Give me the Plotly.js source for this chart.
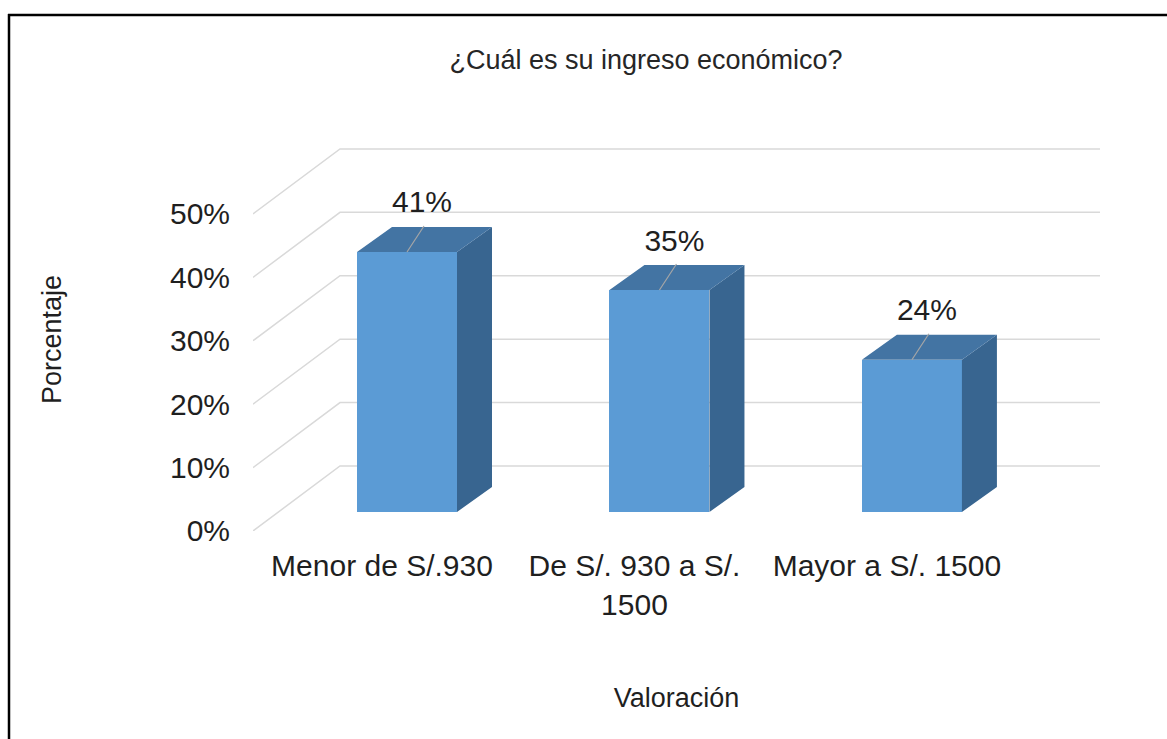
<!DOCTYPE html>
<html>
<head>
<meta charset="utf-8">
<script src="https://cdn.plot.ly/plotly-3.0.1.min.js"></script>
<style>html,body{margin:0;padding:0;background:#fff;}#chart{width:1167px;height:739px;}</style>
</head>
<body>
<div id="chart"></div>
<script>
// ---- data ----
const categories = ['Menor de S/.930', 'De S/. 930 a S/.<br>1500', 'Mayor a S/. 1500'];
const values = [41, 35, 24];
const valueLabels = ['41%', '35%', '24%'];
const yTicks = [0, 10, 20, 30, 40, 50];
const yTickText = ['0%', '10%', '20%', '30%', '40%', '50%'];
const chartTitle = '¿Cuál es su ingreso económico?';
const xTitle = 'Valoración';
const yTitle = 'Porcentaje';

// ---- layout geometry ----
const W = 1167, H = 739;
const M = {l: 253, r: 67, t: 148, b: 208};
const X0 = -0.61, X1 = 2.745, Y0 = -3.0, Y1 = 57.4;
const pxX = (W - M.l - M.r) / (X1 - X0);
const pxY = (H - M.t - M.b) / (Y1 - Y0);
const ux = p => p / pxX, uy = p => p / pxY;

const barW = ux(100);
const depthX = ux(35), depthY = uy(25);        // bar depth (oblique)
const frontDY = uy(-19), backDY = uy(46);       // grid front / back plane offsets
const backX = X0 + ux(87);

const xIdx = categories.map((_, i) => i);

// gridlines (front diagonal + back wall) as shapes below the traces
const gridShapes = yTicks.map(t => ({
  type: 'path', xref: 'x', yref: 'y', layer: 'below',
  path: 'M ' + X0 + ',' + (t + frontDY) + ' L ' + backX + ',' + (t + backDY) + ' L ' + X1 + ',' + (t + backDY),
  line: {color: '#d9d9d9', width: 1.5}
}));

// top and side faces
const tx = [], ty = [], sx = [], sy = [];
xIdx.forEach((i, k) => {
  const v = values[k];
  const a = i - barW / 2, b = i + barW / 2;
  tx.push(a, b, b + depthX, a + depthX, a, null);
  ty.push(v, v, v + depthY, v + depthY, v, null);
  sx.push(b, b, b + depthX, b + depthX, b, null);
  sy.push(0, v, v + depthY, depthY, 0, null);
});

// leader lines
const lx = [], ly = [];
xIdx.forEach((i, k) => {
  lx.push(i, i + ux(17), null);
  ly.push(values[k], values[k] + uy(26), null);
});

const font = 'Liberation Sans, Arial, sans-serif';

const traces = [
  {type: 'bar', x: xIdx, y: values, width: barW, marker: {color: '#5B9BD5', line: {width: 0}}, hoverinfo: 'skip', showlegend: false},
  {type: 'scatter', mode: 'lines', x: sx, y: sy, fill: 'toself', fillcolor: '#386590', line: {width: 0, color: '#386590'}, hoverinfo: 'skip', showlegend: false},
  {type: 'scatter', mode: 'lines', x: tx, y: ty, fill: 'toself', fillcolor: '#4374A3', line: {width: 0, color: '#4374A3'}, hoverinfo: 'skip', showlegend: false},
  {type: 'scatter', mode: 'lines', x: lx, y: ly, line: {color: '#a6a6a6', width: 1.2}, hoverinfo: 'skip', showlegend: false},
  {type: 'scatter', mode: 'text', x: xIdx.map(i => i + ux(15)), y: values.map(v => v + uy(47)),
   text: valueLabels, textposition: 'middle center', textfont: {family: font, size: 30, color: '#1f1f1f'}, hoverinfo: 'skip', showlegend: false}
];

const px2paperX = p => (p - M.l) / (W - M.l - M.r);
const px2paperY = p => (H - M.b - p) / (H - M.t - M.b);

const layout = {
  width: W, height: H,
  margin: M,
  paper_bgcolor: '#ffffff', plot_bgcolor: 'rgba(0,0,0,0)',
  bargap: 0,
  title: {text: chartTitle, font: {family: font, size: 27, color: '#262626'},
          x: 646 / W, xref: 'container', xanchor: 'center', y: 1 - 60 / H, yref: 'container', yanchor: 'middle'},
  xaxis: {range: [X0, X1], tickvals: xIdx, ticktext: categories, showgrid: false, zeroline: false, showline: false,
          ticks: '', ticklabelshift: -25, ticklabelstandoff: 14, tickfont: {family: font, size: 30, color: '#1f1f1f'},
          title: {text: xTitle, font: {family: font, size: 27, color: '#1f1f1f'}, standoff: 68}, fixedrange: true},
  yaxis: {range: [Y0, Y1], tickvals: yTicks, ticktext: yTickText, showgrid: false, zeroline: false, showline: false,
          ticks: '', ticklabelshift: 19, ticklabelstandoff: 22, tickfont: {family: font, size: 30, color: '#1f1f1f'},
          title: {text: yTitle, font: {family: font, size: 27, color: '#1f1f1f'}, standoff: 100}, fixedrange: true},
  shapes: gridShapes.concat([
    {type: 'line', xref: 'paper', yref: 'paper', x0: px2paperX(8), x1: px2paperX(W + 5), y0: px2paperY(15), y1: px2paperY(15), line: {color: '#000', width: 2.5}},
    {type: 'line', xref: 'paper', yref: 'paper', x0: px2paperX(9), x1: px2paperX(9), y0: px2paperY(14), y1: px2paperY(H + 5), line: {color: '#000', width: 2.5}}
  ]),
  showlegend: false
};

Plotly.newPlot('chart', traces, layout, {staticPlot: true, displayModeBar: false});
</script>
</body>
</html>
